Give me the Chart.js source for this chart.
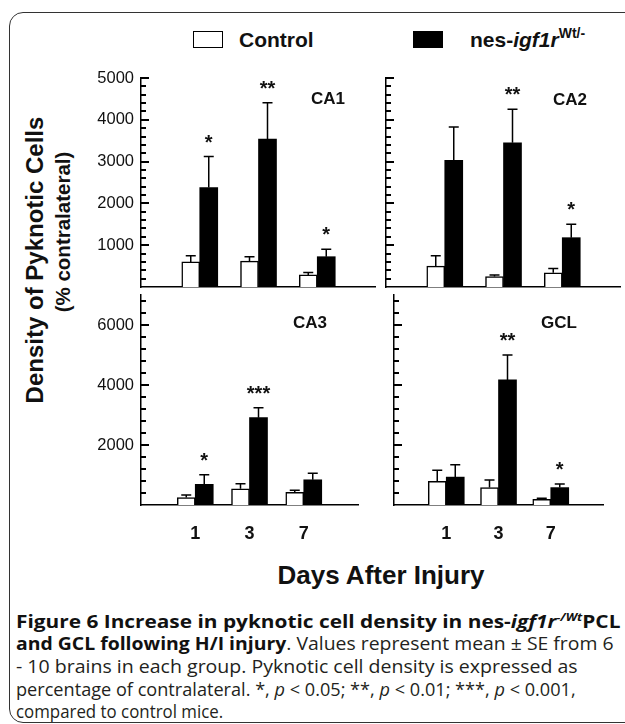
<!DOCTYPE html>
<html>
<head>
<meta charset="utf-8">
<script src="https://cdn.jsdelivr.net/npm/chart.js@4"></script>
<style>
  body { margin: 0; background: #fff; width: 625px; height: 724px; overflow: hidden; position: relative;
         font-family: "Liberation Sans", Arial, sans-serif; color: #111; }
  .frame { position: absolute; left: 9px; top: 12px; width: 660px; height: 711px;
           border: 1.5px solid #333; border-radius: 14px; box-sizing: border-box; }
  .abs { position: absolute; white-space: nowrap; line-height: 1; }
  canvas { position: absolute; }
  .box { position: absolute; box-sizing: border-box; border: 1.5px solid #000; }
  .ytitle { transform: translate(-50%, -50%) rotate(-90deg); font-weight: bold; }
  .caption { position: absolute; left: 16px; font-family: "Open Sans", sans-serif; font-size: 18px;
             color: #231f20; white-space: nowrap; line-height: 1; transform-origin: 0 50%; }
  .caption b { color: #111; }
</style>
</head>
<body>
<div class="frame"></div>

<!-- legend -->
<div class="box" style="left:193px;top:31px;width:30px;height:17px;background:#fff"></div>
<div class="abs" style="left:239px;top:29px;font-size:21px;font-weight:bold">Control</div>
<div class="box" style="left:413px;top:31px;width:30px;height:17px;background:#000"></div>
<div class="abs" style="left:470px;top:29px;font-size:21px;font-weight:bold">nes-<i>igf1r</i><span style="font-size:14px;position:relative;top:-9px">Wt/-</span></div>

<!-- y title -->
<div class="abs ytitle" style="left:35px;top:260px;font-size:24px">Density of Pyknotic Cells</div>
<div class="abs ytitle" style="left:63px;top:232px;font-size:20.5px">(% contralateral)</div>

<canvas id="ca1" width="285" height="245" style="left:91px;top:60px"></canvas>
<canvas id="ca2" width="245" height="245" style="left:376px;top:60px"></canvas>
<canvas id="ca3" width="285" height="273" style="left:91px;top:277px"></canvas>
<canvas id="gcl" width="245" height="273" style="left:376px;top:277px"></canvas>

<div class="abs" style="left:381px;top:575px;transform:translate(-50%,-50%);font-size:26px;font-weight:bold">Days After Injury</div>

<div class="caption" data-w="604" style="top:611px"><b>Figure 6 Increase in pyknotic cell density in nes-<i>igf1r</i><sup style="font-size:11px;vertical-align:7px"><i>-/Wt</i></sup>PCL</b></div>
<div class="caption" data-w="598" style="top:634px"><b>and GCL following H/I injury</b>. Values represent mean ± SE from 6</div>
<div class="caption" data-w="562" style="top:657px">- 10 brains in each group. Pyknotic cell density is expressed as</div>
<div class="caption" data-w="560" style="top:680px">percentage of contralateral. *, <i>p</i> &lt; 0.05; **, <i>p</i> &lt; 0.01; ***, <i>p</i> &lt; 0.001,</div>
<div class="caption" data-w="207" style="top:702px">compared to control mice.</div>

<script>
// x categories (days after injury)
const days = ['1', '3', '7'];

// CA1
const ca1Control = [600, 620, 290];
const ca1ControlSE = [150, 105, 55];
const ca1Nes = [2380, 3540, 725];
const ca1NesSE = [740, 870, 177];
const ca1Sig = ['*', '**', '*'];

// CA2
const ca2Control = [500, 250, 340];
const ca2ControlSE = [250, 40, 105];
const ca2Nes = [3030, 3450, 1180];
const ca2NesSE = [800, 805, 320];
const ca2Sig = ['', '**', '*'];

// CA3
const ca3Control = [250, 540, 420];
const ca3ControlSE = [80, 170, 70];
const ca3Nes = [690, 2910, 840];
const ca3NesSE = [320, 330, 215];
const ca3Sig = ['*', '***', ''];

// GCL
const gclControl = [790, 580, 190];
const gclControlSE = [370, 255, 35];
const gclNes = [930, 4170, 580];
const gclNesSE = [410, 830, 120];
const gclSig = ['', '**', '*'];

// y axis tick labels
const topMajorTicks = [1000, 2000, 3000, 4000, 5000];
const bottomMajorTicks = [2000, 4000, 6000];
const topMinorStep = 200, topMax = 5000;
const bottomMinorStep = 400, bottomMax = 7000;

Chart.defaults.font.family = '"Liberation Sans", Arial, sans-serif';
Chart.defaults.color = '#111';

// empty slot before and after the three days
const pad = a => [null, ...a, null];

// error bars (upward only), significance stars, panel name
const panelMarks = {
    id: 'panelMarks',
    afterDatasetsDraw(chart, args, opts) {
        const ctx = chart.ctx;
        const y = chart.scales.y;
        const area = chart.chartArea;
        ctx.save();
        ctx.strokeStyle = '#000';
        ctx.lineWidth = 1.5;
        chart.data.datasets.forEach((ds, i) => {
            chart.getDatasetMeta(i).data.forEach((bar, j) => {
                const v = ds.data[j], e = ds.errors[j];
                if (v == null || !e) return;
                const top = y.getPixelForValue(v + e);
                ctx.beginPath();
                ctx.moveTo(bar.x, bar.y);
                ctx.lineTo(bar.x, top);
                ctx.moveTo(bar.x - 5, top);
                ctx.lineTo(bar.x + 5, top);
                ctx.stroke();
                if (i === 1 && opts.sig[j]) {
                    ctx.fillStyle = '#111';
                    ctx.font = 'bold 20px "Liberation Sans", Arial, sans-serif';
                    ctx.textAlign = 'center';
                    ctx.textBaseline = 'alphabetic';
                    ctx.fillText(opts.sig[j], bar.x, top - 8);
                }
            });
        });
        ctx.fillStyle = '#111';
        ctx.font = 'bold 17px "Liberation Sans", Arial, sans-serif';
        ctx.textAlign = 'center';
        ctx.textBaseline = 'middle';
        ctx.fillText(opts.label, area.right - opts.dx, area.top + opts.dy);
        ctx.restore();
    }
};

function makePanel(id, p) {
    const tickValues = [];
    for (let v = 0; v <= p.max; v += p.step) tickValues.push(v);

    // tick marks pointing into the plot, long at labelled values
    const innerTicks = {
        id: 'innerTicks',
        afterDraw(chart) {
            const ctx = chart.ctx;
            const y = chart.scales.y;
            const left = y.right;
            ctx.save();
            ctx.strokeStyle = '#000';
            ctx.lineWidth = 1.8;
            ctx.beginPath();
            tickValues.forEach(v => {
                if (v === 0) return;
                const py = Math.round(y.getPixelForValue(v));
                const len = p.major.indexOf(v) >= 0 ? 8 : 5;
                ctx.moveTo(left, py);
                ctx.lineTo(left + len, py);
            });
            ctx.stroke();
            ctx.restore();
        }
    };

    return new Chart(document.getElementById(id), {
        type: 'bar',
        data: {
            labels: pad(days).map(d => d === null ? '' : d),
            datasets: [
                {
                    label: 'Control',
                    data: pad(p.control),
                    errors: pad(p.controlSE),
                    backgroundColor: '#fff',
                    borderColor: '#000',
                    borderWidth: 1.5,
                    barThickness: 18
                },
                {
                    label: 'nes-igf1r Wt/-',
                    data: pad(p.nes),
                    errors: pad(p.nesSE),
                    backgroundColor: '#000',
                    borderColor: '#000',
                    borderWidth: 0,
                    barThickness: 18
                }
            ]
        },
        options: {
            responsive: false,
            animation: false,
            layout: { padding: { top: 18, left: 0, right: 0, bottom: 0 } },
            plugins: {
                legend: { display: false },
                tooltip: { enabled: false },
                panelMarks: { sig: pad(p.sig), label: p.label, dx: p.dx, dy: p.dy }
            },
            scales: {
                x: {
                    offset: false,
                    afterFit: s => { s.height = p.xHeight; },
                    grid: { drawOnChartArea: false, drawTicks: false },
                    border: { color: '#000', width: 1.5 },
                    ticks: {
                        display: p.showX,
                        autoSkip: false,
                        maxRotation: 0,
                        padding: 18,
                        color: '#111',
                        font: { size: 18, weight: 'bold' }
                    }
                },
                y: {
                    min: 0,
                    max: p.max,
                    afterBuildTicks: s => { s.ticks = tickValues.map(v => ({ value: v })); },
                    afterFit: s => { s.width = p.yWidth; },
                    grid: { drawOnChartArea: false, drawTicks: false },
                    border: { color: '#000', width: 1.5 },
                    ticks: {
                        display: p.showY,
                        autoSkip: false,
                        padding: 7,
                        color: '#111',
                        font: { size: 16.5 },
                        callback: v => p.major.includes(v) ? String(v) : null
                    }
                }
            }
        },
        plugins: [panelMarks, innerTicks]
    });
}

makePanel('ca1', {
    control: ca1Control, controlSE: ca1ControlSE, nes: ca1Nes, nesSE: ca1NesSE, sig: ca1Sig,
    label: 'CA1', dx: 48, dy: 21, max: topMax, step: topMinorStep, major: topMajorTicks,
    showX: false, showY: true, xHeight: 18, yWidth: 50
});
makePanel('ca2', {
    control: ca2Control, controlSE: ca2ControlSE, nes: ca2Nes, nesSE: ca2NesSE, sig: ca2Sig,
    label: 'CA2', dx: 51, dy: 22, max: topMax, step: topMinorStep, major: topMajorTicks,
    showX: false, showY: false, xHeight: 18, yWidth: 10
});
makePanel('ca3', {
    control: ca3Control, controlSE: ca3ControlSE, nes: ca3Nes, nesSE: ca3NesSE, sig: ca3Sig,
    label: 'CA3', dx: 48, dy: 28, max: bottomMax, step: bottomMinorStep, major: bottomMajorTicks,
    showX: true, showY: true, xHeight: 45, yWidth: 50
});
makePanel('gcl', {
    control: gclControl, controlSE: gclControlSE, nes: gclNes, nesSE: gclNesSE, sig: gclSig,
    label: 'GCL', dx: 44, dy: 28, max: bottomMax, step: bottomMinorStep, major: bottomMajorTicks,
    showX: true, showY: false, xHeight: 45, yWidth: 10
});

// squeeze each caption line to the width it has in the figure
document.querySelectorAll('.caption').forEach(el => {
    const target = +el.dataset.w;
    el.style.transform = 'scaleX(' + (target / el.offsetWidth).toFixed(4) + ')';
});
</script>
</body>
</html>
